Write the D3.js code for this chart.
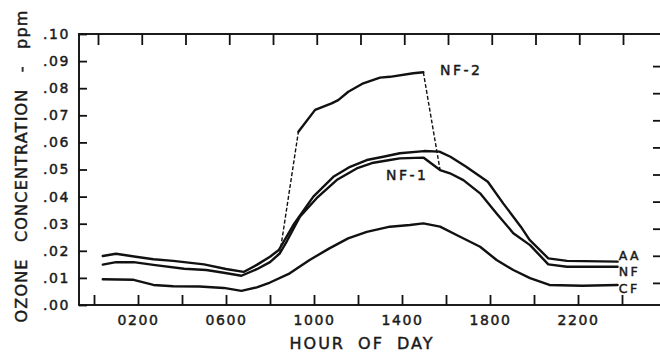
<html>

<head>
    <title> Ozone by hour </title>
    <script src="https://cdn.jsdelivr.net/npm/d3@7"></script>
    <style type="text/css">
        body {
            margin: 0;
            background: #fff;
        }

        .axis path {
            display: none;
        }

        .axis line {
            stroke: #111;
            stroke-width: 1.8px;
        }

        .axis text {
            font-family: "DejaVu Sans", sans-serif;
            font-size: 14px;
            fill: #1a1a1a;
            stroke: #1a1a1a;
            stroke-width: 0.45px;
            letter-spacing: 1.6px;
        }

        .curve {
            fill: none;
            stroke: #111;
            stroke-width: 2.4px;
            stroke-linejoin: round;
            stroke-linecap: round;
        }

        .dash {
            fill: none;
            stroke: #111;
            stroke-width: 1.4px;
            stroke-dasharray: 4, 2;
        }

        .lbl {
            font-family: "DejaVu Sans", sans-serif;
            fill: #1a1a1a;
            stroke: #1a1a1a;
            stroke-width: 0.45px;
        }
    </style>
</head>

<body>
    <script type="text/javascript">
        // hours of day (0-24) and ozone ppm
        var aaHour = [0.4, 1.0, 1.9, 2.7, 3.6, 5.0, 6.0, 6.8, 7.4, 8.0, 8.4, 9.06, 9.97, 10.88, 11.64, 12.4, 13.15, 13.9, 15.0, 15.7, 16.2, 16.9, 17.9, 18.6, 19.4, 19.8, 20.65, 21.5, 23.8];
        var aaPpm = [.0181, .0189, .0178, .0169, .0163, .0150, .0133, .0122, .0148, .0178, .0203, .0295, .0400, .0473, .0510, .0535, .0547, .0560, .0568, .0566, .0547, .0511, .0455, .0375, .0289, .0240, .0172, .0163, .0160];

        // NF chamber, solid line (night + NF-1 + evening)
        var nfHour = [0.4, 1.0, 1.8, 2.7, 4.1, 5.1, 5.9, 6.7, 7.4, 8.0, 8.45, 8.77, 9.36, 10.12, 11.03, 11.94, 12.7, 13.45, 13.9, 14.97, 15.73, 16.18, 16.79, 17.55, 18.3, 19.06, 19.82, 20.65, 21.5, 23.8];
        var nfPpm = [.0149, .0158, .0158, .0148, .0134, .0129, .0119, .0108, .0132, .0158, .0191, .0236, .0326, .0394, .0461, .0504, .0525, .0535, .0541, .0544, .0498, .0486, .0461, .0412, .0338, .0265, .0221, .0150, .0141, .0141];

        // NF-2 branch, first and last steps dashed
        var nf2Hour = [8.45, 9.29, 10.05, 10.8, 11.1, 11.56, 12.24, 13.0, 13.45, 14.51, 14.97, 15.73];
        var nf2Ppm = [.0191, .0639, .0720, .0744, .0756, .0787, .0818, .0839, .0842, .0855, .0859, .0498];

        var cfHour = [0.4, 1.8, 2.7, 3.6, 4.8, 5.9, 6.7, 7.4, 8.0, 8.9, 9.8, 10.7, 11.55, 12.4, 13.45, 14.36, 14.97, 15.73, 16.64, 17.55, 18.3, 19.06, 19.82, 20.7, 22.2, 23.8];
        var cfPpm = [.0095, .0093, .0074, .0069, .0068, .0063, .0052, .0065, .0083, .0117, .0166, .0209, .0246, .0270, .0289, .0295, .0301, .0289, .0252, .0215, .0166, .0129, .0099, .0074, .0071, .0074];

        var hourTicks = [0, 2, 4, 6, 8, 10, 12, 14, 16, 18, 20, 22, 24];
        var hourLabels = [2, 6, 10, 14, 18, 22];
        var ppmTicks = [0, .01, .02, .03, .04, .05, .06, .07, .08, .09, .10];
        var sideTicks = [.01, .02, .03, .04, .05, .06, .07, .08, .09];

        var labelNames = ["AA", "NF", "CF", "NF-2", "NF-1"];
        var labelHour = [23.85, 23.85, 23.85, 15.73, 13.27];
        var labelPpm = [.0181, .0124, .0062, .0869, .0480];

        var w = 660;
        var h = 356;
        var frameL = 79,
            frameR = 661,
            frameT = 34,
            frameB = 305;

        var xScale = d3.scaleLinear().domain([0, 24]).range([94, 622]);
        var xTop = d3.scaleLinear().domain([0, 24]).range([98, 623]);
        var yScale = d3.scaleLinear().domain([0, 0.1]).range([frameB, frameT]);
        var yRight = d3.scaleLinear().domain([0, 0.1]).range([frameB + 5, frameT + 5]);

        var svg = d3.select("body")
            .append("svg")
            .attr("width", w)
            .attr("height", h);

        // frame
        svg.append("rect")
            .attr("x", frameL)
            .attr("y", frameT)
            .attr("width", frameR - frameL)
            .attr("height", frameB - frameT)
            .attr("fill", "none")
            .attr("stroke", "#111")
            .attr("stroke-width", 1.9);

        var fmtHour = d3.format("04d");
        var xAxis = d3.axisBottom(xScale)
            .tickValues(hourTicks)
            .tickSize(-10)
            .tickPadding(10)
            .tickFormat(function(d) {
                return hourLabels.indexOf(d) >= 0 ? fmtHour(d * 100) : "";
            });
        svg.append("g")
            .attr("class", "axis")
            .attr("transform", "translate(0," + frameB + ")")
            .call(xAxis);

        svg.append("g")
            .attr("class", "axis")
            .attr("transform", "translate(0," + frameT + ")")
            .call(d3.axisBottom(xTop).tickValues(hourTicks).tickSize(11).tickFormat(""));

        var yAxis = d3.axisLeft(yScale)
            .tickValues(ppmTicks)
            .tickSize(-8)
            .tickPadding(9)
            .tickFormat(function(d) {
                return d3.format(".2f")(d).replace(/^0/, "");
            });
        svg.append("g")
            .attr("class", "axis")
            .attr("transform", "translate(" + frameL + ",0)")
            .call(yAxis);

        svg.append("g")
            .attr("class", "axis")
            .attr("transform", "translate(" + frameR + ",0)")
            .call(d3.axisRight(yRight).tickValues(sideTicks).tickSize(-8).tickFormat(""));

        // curves
        function pts(hs, vs) {
            return hs.map(function(d, i) {
                return [d, vs[i]];
            });
        }
        var line = d3.line()
            .x(function(d) {
                return xScale(d[0]);
            })
            .y(function(d) {
                return yScale(d[1]);
            });

        var nf2 = pts(nf2Hour, nf2Ppm);
        [pts(aaHour, aaPpm), pts(nfHour, nfPpm), pts(cfHour, cfPpm), nf2.slice(1, nf2.length - 1)]
        .forEach(function(p) {
            svg.append("path")
                .attr("class", "curve")
                .attr("d", line(p));
        });
        svg.append("path")
            .attr("class", "dash")
            .attr("d", line(nf2.slice(0, 2)));
        svg.append("path")
            .attr("class", "dash")
            .attr("d", line(nf2.slice(nf2.length - 2)));

        // series labels
        svg.selectAll(".lbl")
            .data(labelNames)
            .enter()
            .append("text")
            .attr("class", "lbl")
            .attr("x", function(d, i) {
                return xScale(labelHour[i]);
            })
            .attr("y", function(d, i) {
                return yScale(labelPpm[i]);
            })
            .attr("dy", "0.36em")
            .attr("font-size", function(d) {
                return d.length > 2 ? "14px" : "12.5px";
            })
            .attr("letter-spacing", function(d) {
                return d.length > 2 ? "2.5px" : "2.5px";
            })
            .text(function(d) {
                return d;
            });

        // axis titles
        svg.append("text")
            .attr("class", "lbl")
            .attr("x", 362)
            .attr("y", 349)
            .attr("text-anchor", "middle")
            .attr("font-size", "16px")
            .attr("letter-spacing", "2px")
            .attr("word-spacing", "6px")
            .text("HOUR OF DAY");

        svg.append("text")
            .attr("class", "lbl")
            .attr("transform", "translate(27,166) rotate(-90)")
            .attr("text-anchor", "middle")
            .attr("font-size", "16px")
            .attr("letter-spacing", "1.2px")
            .attr("word-spacing", "10px")
            .text("OZONE CONCENTRATION - ppm");
    </script>

</body>

</html>
